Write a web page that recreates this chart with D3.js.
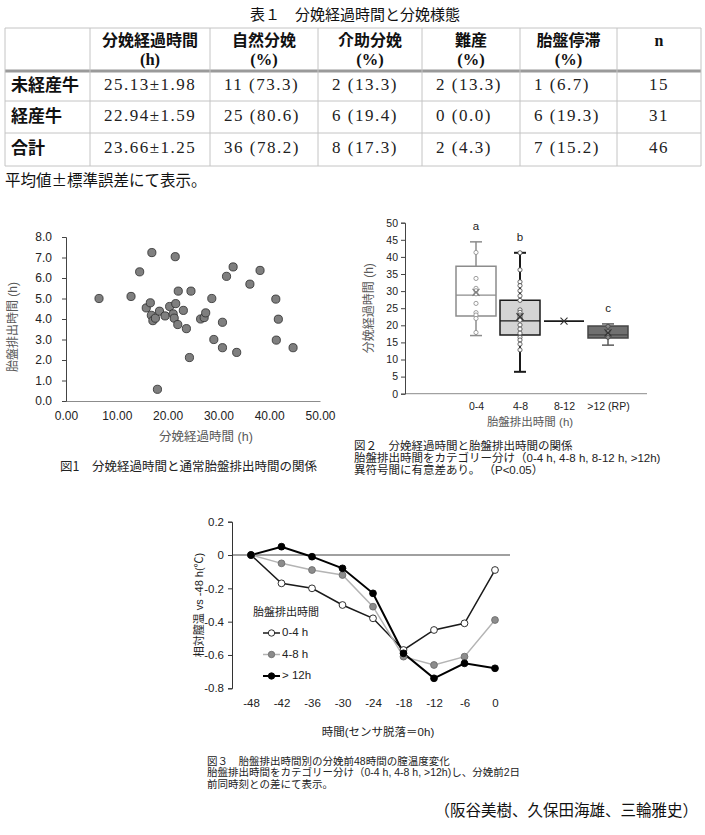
<!DOCTYPE html>
<html>
<head>
<meta charset="utf-8">
<script src="https://cdn.jsdelivr.net/npm/d3@7"></script>
<style>
body { margin: 0; background: #fff; }
</style>
</head>
<body>
<script>
// ---------- data ----------
// Table 1
const tableTitle = "表１　分娩経過時間と分娩様態";
const tableHeads = ["分娩経過時間", "自然分娩", "介助分娩", "難産", "胎盤停滞", "n"];
const tableUnits = ["(h)", "(%)", "(%)", "(%)", "(%)", ""];
const tableRows = ["未経産牛", "経産牛", "合計"];
const tableCells = [
  ["25.13±1.98", "11 (73.3)", "2 (13.3)", "2 (13.3)", "1 (6.7)", "15"],
  ["22.94±1.59", "25 (80.6)", "6 (19.4)", "0 (0.0)", "6 (19.3)", "31"],
  ["23.66±1.25", "36 (78.2)", "8 (17.3)", "2 (4.3)", "7 (15.2)", "46"]
];
const tableNote = "平均値±標準誤差にて表示。";

// Fig 1 scatter: calving duration (h) vs placenta expulsion time (h)
const scatterX = [6.5, 12.8, 14.5, 16.9, 21.5, 15.8, 16.6, 16.8, 17.1, 17.6, 18.4, 19.5, 20.4,
  21.1, 21.3, 21.6, 22.0, 22.1, 23.1, 23.7, 24.3, 24.6, 18.0, 26.5, 27.2, 27.5, 28.7, 29.1,
  30.8, 30.8, 31.6, 32.9, 33.6, 36.2, 38.2, 41.3, 41.8, 41.4, 44.7];
const scatterY = [5.0, 5.1, 6.3, 7.24, 7.04, 4.54, 4.79, 4.18, 3.92, 4.04, 4.38, 4.15, 4.61,
  4.25, 4.04, 4.75, 3.73, 5.36, 4.42, 3.53, 2.12, 5.36, 0.57, 4.0, 4.07, 4.3, 5.0, 3.0,
  3.84, 2.6, 6.08, 6.54, 2.37, 5.7, 6.37, 4.97, 3.99, 2.97, 2.6];
const xTicks1 = [0, 10, 20, 30, 40, 50];
const yTicks1 = [0, 1, 2, 3, 4, 5, 6, 7, 8];

// Fig 2 box plot
const boxCats = ["0-4", "4-8", "8-12", ">12 (RP)"];
const boxMin = [17.0, 6.4, 21.2, 14.2];
const boxQ1 = [22.7, 17.2, 21.2, 16.3];
const boxMed = [28.8, 21.3, 21.2, 17.2];
const boxQ3 = [37.3, 27.3, 21.2, 19.8];
const boxMax = [44.4, 41.2, 21.2, 20.4];
const boxMean = [29.6, 22.5, 21.2, 17.8];
const boxPoints = [
  [41.3, 33.7, 30.8, 30.1, 29.2, 26.4, 23.7, 23.0, 22.0, 17.9],
  [41.2, 36.2, 32.7, 31.6, 30.1, 28.6, 27.3, 24.5, 23.8, 23.0, 22.5, 22.0, 21.5, 20.1,
    18.9, 17.7, 16.5, 15.7, 14.5, 12.8],
  [],
  [19.7, 18.2, 17.2, 16.5]
];
const boxLetters = ["a", "b", "", "c"];
const yTicks2 = [0, 5, 10, 15, 20, 25, 30, 35, 40, 45, 50];

// Fig 3 relative vaginal temperature
const hours = [-48, -42, -36, -30, -24, -18, -12, -6, 0];
const temp04 = [0, -0.17, -0.20, -0.30, -0.38, -0.57, -0.45, -0.41, -0.09];
const temp48 = [0, -0.05, -0.09, -0.12, -0.31, -0.61, -0.66, -0.61, -0.39];
const temp12 = [0, 0.05, -0.01, -0.08, -0.23, -0.59, -0.74, -0.65, -0.68];
const seriesNames = ["0-4 h", "4-8 h", "> 12h"];
const yTicks3 = [-0.8, -0.6, -0.4, -0.2, 0, 0.2];

// ---------- setup ----------
const W = 705, H = 835;
const SANS = '"Liberation Sans", Arial, "Noto Sans CJK JP", sans-serif';
const JP = '"Noto Sans CJK JP", sans-serif';
const SERIF = '"Liberation Serif", "Noto Sans CJK JP", serif';

const svg = d3.select("body").append("svg")
    .attr("width", W)
    .attr("height", H)
    .style("font-family", SANS);
svg.append("rect").attr("width", W).attr("height", H).attr("fill", "#fff");

// ---------- table 1 ----------
const colEdges = [5, 90, 210, 318, 422, 520, 617, 701];
const rowEdges = [28, 71, 101, 133, 166];
const tbl = svg.append("g");

tbl.append("text")
    .attr("x", 355).attr("y", 16)
    .attr("text-anchor", "middle").attr("dominant-baseline", "middle")
    .style("font-family", JP).style("font-size", "15px").attr("fill", "#111")
    .text(tableTitle);

// grid lines
rowEdges.forEach((y, i) => {
  tbl.append("line")
      .attr("x1", colEdges[0]).attr("x2", colEdges[colEdges.length - 1])
      .attr("y1", y).attr("y2", y)
      .attr("stroke", i === 1 ? "#9a9a9a" : "#c4c4c4")
      .attr("stroke-width", i === 1 ? 3 : 1);
});
colEdges.forEach(x => {
  tbl.append("line")
      .attr("x1", x).attr("x2", x)
      .attr("y1", rowEdges[0]).attr("y2", rowEdges[rowEdges.length - 1])
      .attr("stroke", "#c4c4c4").attr("stroke-width", 1);
});

// header
tableHeads.forEach((h, i) => {
  const cx = (colEdges[i + 1] + colEdges[i + 2]) / 2;
  tbl.append("text")
      .attr("x", cx).attr("y", 42)
      .attr("text-anchor", "middle").attr("dominant-baseline", "middle")
      .style("font-family", i === 5 ? SERIF : JP)
      .style("font-size", "16px").style("font-weight", "bold").attr("fill", "#111")
      .text(h);
  if (tableUnits[i]) {
    tbl.append("text")
        .attr("x", cx).attr("y", 61)
        .attr("text-anchor", "middle").attr("dominant-baseline", "middle")
        .style("font-family", SERIF).style("font-size", "16.5px").style("font-weight", "bold")
        .attr("fill", "#111")
        .text(tableUnits[i]);
  }
});

// rows
tableRows.forEach((r, j) => {
  const cy = (rowEdges[j + 1] + rowEdges[j + 2]) / 2;
  tbl.append("text")
      .attr("x", 11).attr("y", cy)
      .attr("dominant-baseline", "middle")
      .style("font-family", JP).style("font-size", "17px").style("font-weight", "bold")
      .attr("fill", "#111")
      .text(r);
  tableCells[j].forEach((c, i) => {
    const last = i === tableCells[j].length - 1;
    tbl.append("text")
        .attr("x", last ? (colEdges[i + 1] + colEdges[i + 2]) / 2 : colEdges[i + 1] + 14)
        .attr("y", cy)
        .attr("text-anchor", last ? "middle" : "start")
        .attr("dominant-baseline", "middle")
        .style("font-family", SERIF).style("font-size", "17px")
        .style("letter-spacing", "1.5px").attr("fill", "#222")
        .text(c);
  });
});

tbl.append("text")
    .attr("x", 5).attr("y", 182)
    .attr("dominant-baseline", "middle")
    .style("font-family", JP).style("font-size", "15.5px").attr("fill", "#111")
    .text(tableNote);

// ---------- figure 1: scatter ----------
const x1 = d3.scaleLinear().domain([0, 50]).range([66, 320]);
const y1 = d3.scaleLinear().domain([0, 8]).range([401, 237]);
const f1 = svg.append("g");

f1.append("g")
    .attr("transform", `translate(0,${y1(0)})`)
    .call(d3.axisBottom(x1).tickValues(xTicks1).tickFormat(d3.format(".2f")).tickSize(0).tickPadding(10))
    .call(g => g.select(".domain").attr("stroke", "#8c8c8c"));
f1.append("g")
    .attr("transform", `translate(${x1(0)},0)`)
    .call(d3.axisLeft(y1).tickValues(yTicks1).tickFormat(d3.format(".1f")).tickSize(4).tickPadding(10))
    .call(g => g.select(".domain").attr("stroke", "#444"))
    .call(g => g.selectAll(".tick line").attr("stroke", "#444"));
f1.selectAll(".tick text")
    .style("font-family", SANS).style("font-size", "12px").attr("fill", "#222");

f1.selectAll("circle.pt")
    .data(scatterX.map((d, i) => [d, scatterY[i]]))
    .join("circle")
    .attr("class", "pt")
    .attr("cx", d => x1(d[0]))
    .attr("cy", d => y1(d[1]))
    .attr("r", 4.1)
    .attr("fill", "#7f7f7f")
    .attr("stroke", "#2a2a2a")
    .attr("stroke-width", 0.8);

f1.append("text")
    .attr("x", 206).attr("y", 438)
    .attr("text-anchor", "middle").attr("dominant-baseline", "middle")
    .style("font-size", "12.5px").attr("fill", "#595959")
    .text("分娩経過時間 (h)");
f1.append("text")
    .attr("transform", `translate(14,${(y1(0) + y1(8)) / 2 + 8}) rotate(-90)`)
    .attr("text-anchor", "middle").attr("dominant-baseline", "middle")
    .style("font-size", "12px").attr("fill", "#595959")
    .text("胎盤排出時間 (h)");
f1.append("text")
    .attr("x", 60).attr("y", 468)
    .attr("dominant-baseline", "middle")
    .style("font-family", JP).style("font-size", "12.5px").attr("fill", "#222")
    .text("図1　分娩経過時間と通常胎盤排出時間の関係");

// ---------- figure 2: box plot ----------
const x2 = d3.scalePoint().domain(boxCats).range([476, 608]);
const y2 = d3.scaleLinear().domain([0, 50]).range([393.7, 222.7]);
const f2 = svg.append("g");
const boxW = 40, capW = 12;
const boxFill = ["#ffffff", "#d4d4d4", "#ffffff", "#707070"];
const boxStroke = ["#8c8c8c", "#1a1a1a", "#1a1a1a", "#454545"];
const whiskStroke = ["#8c8c8c", "#1a1a1a", "#1a1a1a", "#5a5a5a"];
const whiskW = [1.5, 2, 1.2, 1.5];

f2.append("line")
    .attr("x1", 405).attr("x2", 647)
    .attr("y1", y2(0)).attr("y2", y2(0))
    .attr("stroke", "#8c8c8c");
f2.append("g")
    .attr("transform", `translate(405,0)`)
    .call(d3.axisLeft(y2).tickValues(yTicks2).tickSize(4).tickPadding(3))
    .call(g => g.select(".domain").attr("stroke", "#444"))
    .call(g => g.selectAll(".tick line").attr("stroke", "#444"));
f2.append("g")
    .attr("transform", `translate(0,${y2(0)})`)
    .call(d3.axisBottom(x2).tickSize(0).tickPadding(9))
    .call(g => g.select(".domain").remove());
f2.selectAll(".tick text")
    .style("font-family", SANS).style("font-size", "10.5px").attr("fill", "#222");

boxCats.forEach((c, i) => {
  const cx = x2(c);
  const g = f2.append("g");
  // whiskers
  g.append("line")
      .attr("x1", cx).attr("x2", cx)
      .attr("y1", y2(boxMax[i])).attr("y2", y2(boxQ3[i]))
      .attr("stroke", whiskStroke[i]).attr("stroke-width", whiskW[i]);
  g.append("line")
      .attr("x1", cx).attr("x2", cx)
      .attr("y1", y2(boxQ1[i])).attr("y2", y2(boxMin[i]))
      .attr("stroke", whiskStroke[i]).attr("stroke-width", whiskW[i]);
  if (boxMax[i] !== boxMin[i]) {
    [boxMax[i], boxMin[i]].forEach(v => {
      g.append("line")
          .attr("x1", cx - capW / 2).attr("x2", cx + capW / 2)
          .attr("y1", y2(v)).attr("y2", y2(v))
          .attr("stroke", whiskStroke[i]).attr("stroke-width", whiskW[i]);
    });
  }
  // box
  g.append("path")
      .attr("d", `M${cx - boxW / 2},${y2(boxQ3[i])}H${cx + boxW / 2}V${y2(boxQ1[i])}H${cx - boxW / 2}Z`)
      .attr("fill", boxFill[i])
      .attr("stroke", boxStroke[i]).attr("stroke-width", 1.5);
  g.append("line")
      .attr("x1", cx - boxW / 2).attr("x2", cx + boxW / 2)
      .attr("y1", y2(boxMed[i])).attr("y2", y2(boxMed[i]))
      .attr("stroke", boxStroke[i]).attr("stroke-width", 1.3);
  // inner points
  g.selectAll("circle")
      .data(boxPoints[i])
      .join("circle")
      .attr("cx", cx).attr("cy", d => y2(d))
      .attr("r", 2.1)
      .attr("fill", i === 3 ? "#8a8a8a" : "#fff")
      .attr("stroke", i === 0 ? "#888" : "#444")
      .attr("stroke-width", 0.8);
  // mean marker
  const my = y2(boxMean[i]), s = 3.5;
  g.append("path")
      .attr("d", `M${cx - s},${my - s}L${cx + s},${my + s}M${cx - s},${my + s}L${cx + s},${my - s}`)
      .attr("stroke", i === 0 ? "#777" : "#333").attr("stroke-width", 1.1);
  // significance letter
  if (boxLetters[i]) {
    g.append("text")
        .attr("x", cx).attr("y", y2(boxMax[i]) - 15)
        .attr("text-anchor", "middle").attr("dominant-baseline", "middle")
        .style("font-size", "11.5px").attr("fill", "#222")
        .text(boxLetters[i]);
  }
});

f2.append("text")
    .attr("x", 530).attr("y", 423)
    .attr("text-anchor", "middle").attr("dominant-baseline", "middle")
    .style("font-size", "11.5px").attr("fill", "#595959")
    .text("胎盤排出時間 (h)");
f2.append("text")
    .attr("transform", `translate(370,${(y2(0) + y2(50)) / 2}) rotate(-90)`)
    .attr("text-anchor", "middle").attr("dominant-baseline", "middle")
    .style("font-size", "12px").attr("fill", "#595959")
    .text("分娩経過時間 (h)");
const cap2 = ["図２　分娩経過時間と胎盤排出時間の関係",
  "胎盤排出時間をカテゴリー分け（0-4 h, 4-8 h, 8-12 h, >12h)",
  "異符号間に有意差あり。 （P<0.05）"];
cap2.forEach((t, k) => {
  f2.append("text")
      .attr("x", 354).attr("y", 447 + k * 12)
      .attr("dominant-baseline", "middle")
      .style("font-size", "11.5px").attr("fill", "#222")
      .text(t);
});

// ---------- figure 3: line chart ----------
const x3 = d3.scaleLinear().domain([-48, 0]).range([251, 495]);
const y3 = d3.scaleLinear().domain([-0.8, 0.2]).range([688.3, 521.7]);
const f3 = svg.append("g");
const fmt3 = d => d === 0 ? "0" : d3.format(".1f")(d).replace("−", "-");

f3.append("line")
    .attr("x1", 232).attr("x2", 510)
    .attr("y1", y3(0)).attr("y2", y3(0))
    .attr("stroke", "#a0a0a0").attr("stroke-width", 2);
f3.append("g")
    .attr("transform", `translate(232,0)`)
    .call(d3.axisLeft(y3).tickValues(yTicks3).tickFormat(fmt3).tickSize(4).tickPadding(4))
    .call(g => g.select(".domain").attr("stroke", "#333"))
    .call(g => g.selectAll(".tick line").attr("stroke", "#333"));
f3.append("g")
    .attr("transform", `translate(0,${y3(-0.8)})`)
    .call(d3.axisBottom(x3).tickValues(hours).tickFormat(d => d === 0 ? "0" : String(d)).tickSize(0).tickPadding(11))
    .call(g => g.select(".domain").remove());
f3.selectAll(".tick text")
    .style("font-family", SANS).style("font-size", "11.5px").attr("fill", "#222");

const series = [
  { vals: temp04, line: "#1a1a1a", lw: 1.5, fill: "#fff", mk: "#1a1a1a" },
  { vals: temp48, line: "#b4b4b4", lw: 1.5, fill: "#8c8c8c", mk: "#6e6e6e" },
  { vals: temp12, line: "#000", lw: 2, fill: "#000", mk: "#000" }
];
const line3 = d3.line().x((d, i) => x3(hours[i])).y(d => y3(d));
series.forEach(s => {
  f3.append("path")
      .attr("d", line3(s.vals))
      .attr("fill", "none")
      .attr("stroke", s.line).attr("stroke-width", s.lw);
});
series.forEach(s => {
  f3.append("g").selectAll("circle")
      .data(s.vals)
      .join("circle")
      .attr("cx", (d, i) => x3(hours[i]))
      .attr("cy", d => y3(d))
      .attr("r", 3.4)
      .attr("fill", s.fill)
      .attr("stroke", s.mk).attr("stroke-width", 0.9);
});

// legend
f3.append("text")
    .attr("x", 253).attr("y", 613)
    .attr("dominant-baseline", "middle")
    .style("font-size", "11px").attr("fill", "#222")
    .text("胎盤排出時間");
series.forEach((s, k) => {
  const ly = 633 + k * 21.5;
  f3.append("line")
      .attr("x1", 263).attr("x2", 280)
      .attr("y1", ly).attr("y2", ly)
      .attr("stroke", s.line).attr("stroke-width", s.lw);
  f3.append("circle")
      .attr("cx", 271.5).attr("cy", ly).attr("r", 3.2)
      .attr("fill", s.fill).attr("stroke", s.mk).attr("stroke-width", 0.9);
  f3.append("text")
      .attr("x", 282).attr("y", ly)
      .attr("dominant-baseline", "middle")
      .style("font-size", "11.5px").attr("fill", "#222")
      .text(seriesNames[k]);
});

f3.append("text")
    .attr("x", 378).attr("y", 733)
    .attr("text-anchor", "middle").attr("dominant-baseline", "middle")
    .style("font-size", "11.5px").attr("fill", "#222")
    .text("時間(センサ脱落＝0h)");
f3.append("text")
    .attr("transform", `translate(200,605) rotate(-90)`)
    .attr("text-anchor", "middle").attr("dominant-baseline", "middle")
    .style("font-size", "11px").attr("fill", "#222")
    .text("相対膣温 vs -48 h(℃)");
const cap3 = ["図３　胎盤排出時間別の分娩前48時間の膣温度変化",
  "胎盤排出時間をカテゴリー分け（0-4 h, 4-8 h, >12h)し、分娩前2日",
  "前同時刻との差にて表示。"];
cap3.forEach((t, k) => {
  f3.append("text")
      .attr("x", 207).attr("y", 762 + k * 11.5)
      .attr("dominant-baseline", "middle")
      .style("font-size", "10.5px").attr("fill", "#222")
      .text(t);
});

svg.append("text")
    .attr("x", 698).attr("y", 812)
    .attr("text-anchor", "end").attr("dominant-baseline", "middle")
    .style("font-family", JP).style("font-size", "15.5px").attr("fill", "#111")
    .text("（阪谷美樹、久保田海雄、三輪雅史）");
</script>
</body>
</html>
